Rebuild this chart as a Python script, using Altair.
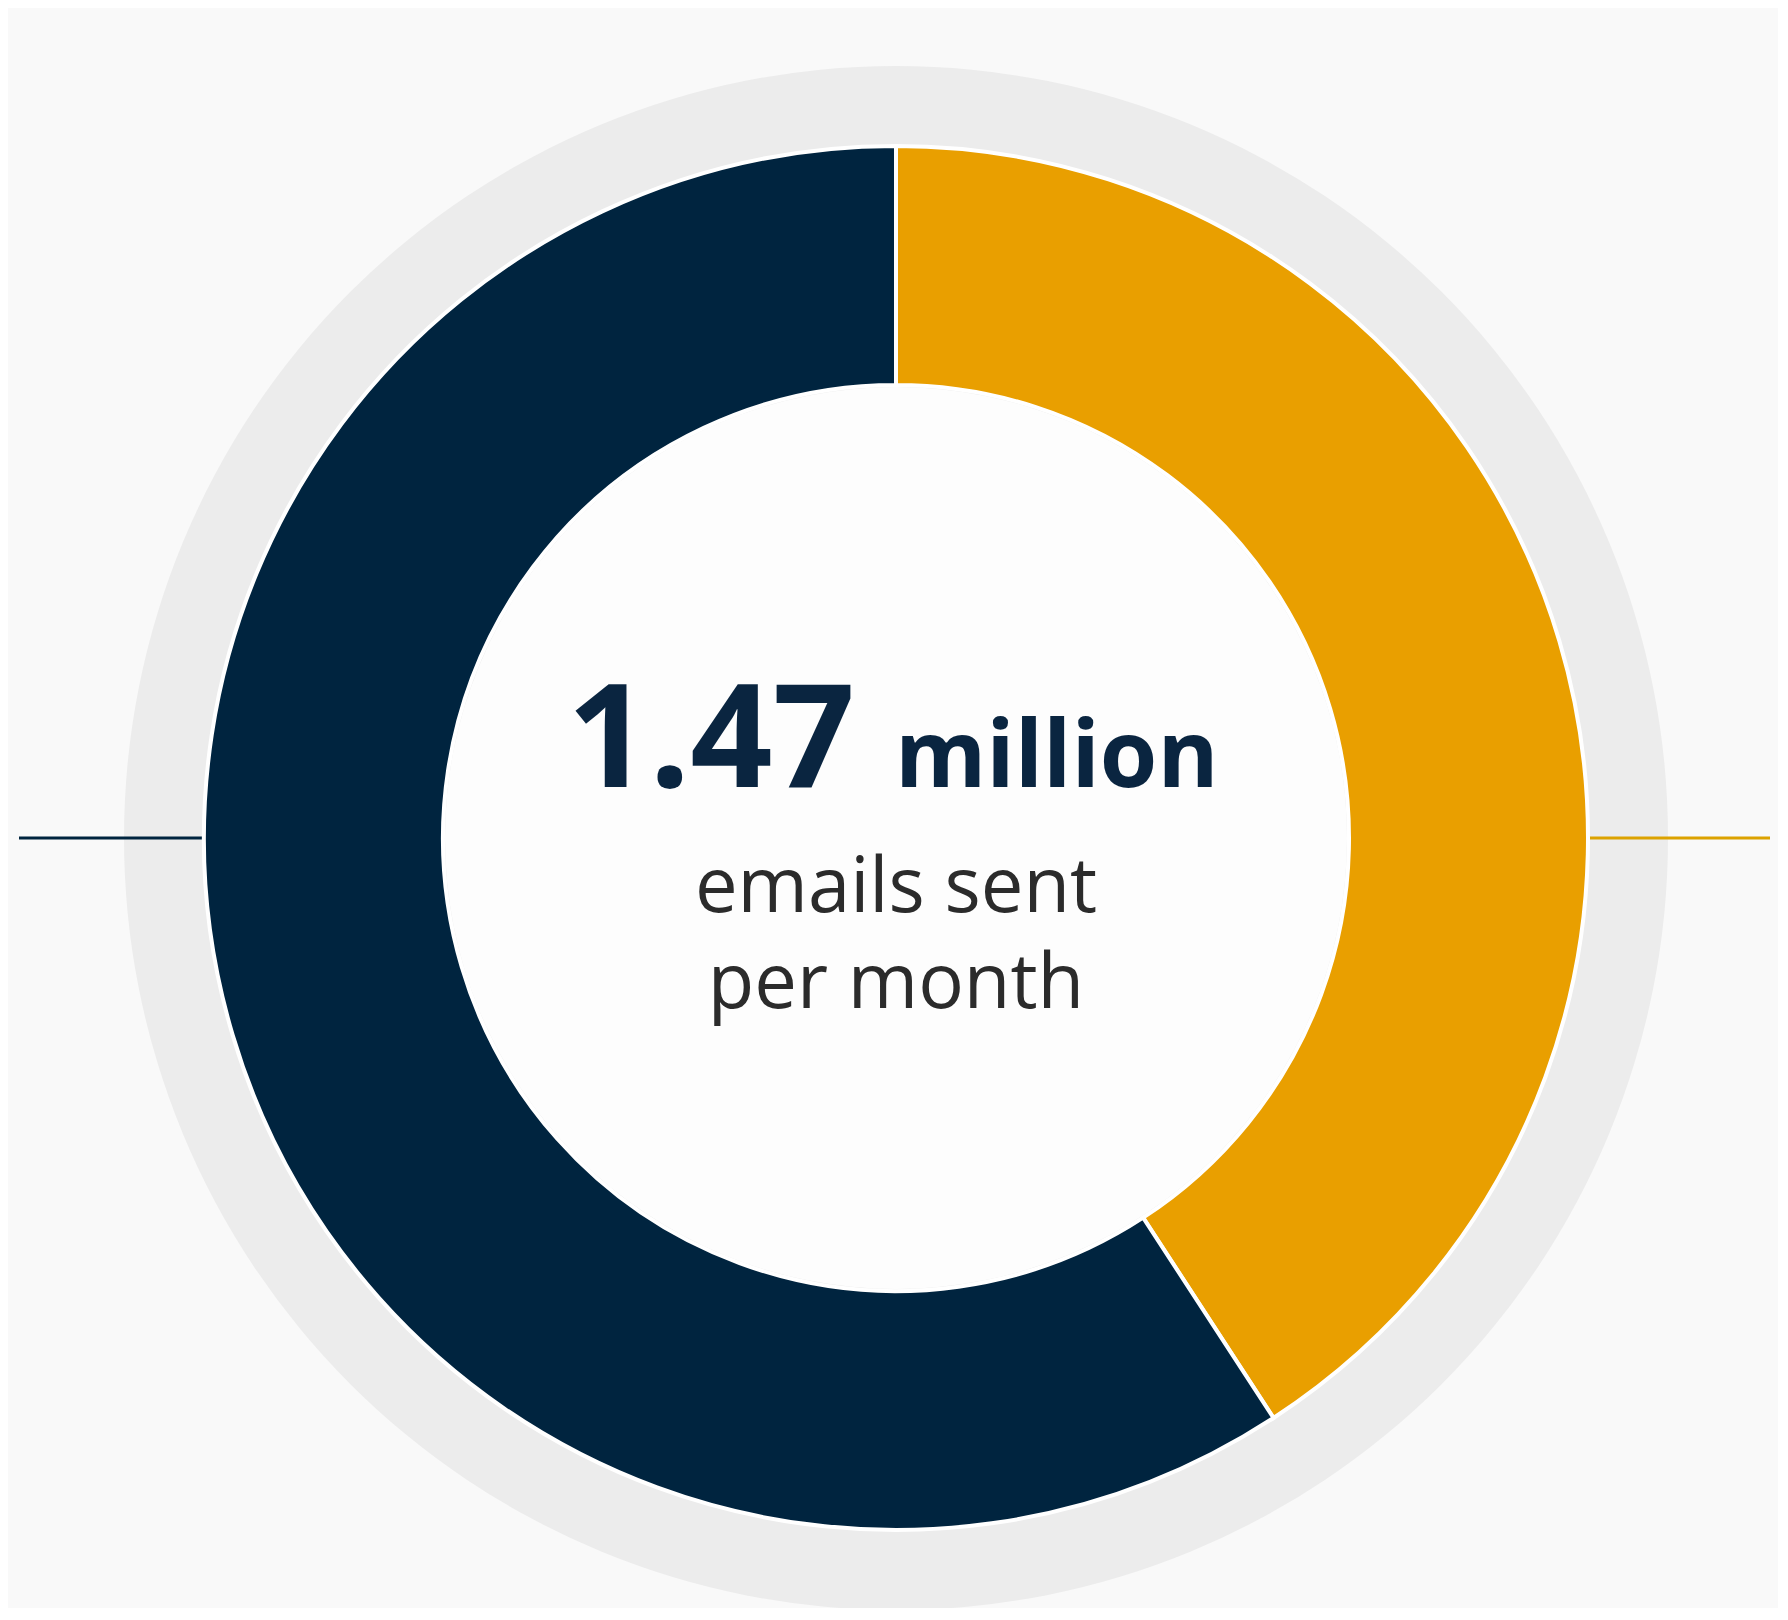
import math
import altair as alt
import pandas as pd

# ---- data ----
segments = ["Segment A", "Segment B"]
values_million = [0.60, 0.87]          # orange share, navy share (sum = 1.47 million)
seg_colors = ["#E99F00", "#00243F"]
headline_value = "1.47"
headline_unit = "million"
sub_lines = ["emails sent", "per month"]

# ---- layout (page px minus 8 px body margin) ----
W, H = 1770, 1600
CX, CY = 888, 830
R_OUT, R_IN, R_HALO = 692, 453, 772

one = pd.DataFrame({"v": [1]})

halo = alt.Chart(one).mark_arc(
    radius=R_HALO, theta=0, theta2=2 * math.pi, color="#ECECEC"
).encode(x=alt.value(CX), y=alt.value(CY))

df = pd.DataFrame({"segment": segments, "value": values_million, "order": [0, 1]})
donut = alt.Chart(df).mark_arc(
    radius=R_OUT, innerRadius=R_IN, stroke="#FFFFFF", strokeWidth=4
).encode(
    theta=alt.Theta("value:Q", stack=True),
    color=alt.Color("segment:N", scale=alt.Scale(domain=segments, range=seg_colors), legend=None),
    order=alt.Order("order:Q"),
    x=alt.value(CX),
    y=alt.value(CY),
)

inner = alt.Chart(one).mark_arc(
    radius=R_IN - 2, theta=0, theta2=2 * math.pi, color="#FDFDFD"
).encode(x=alt.value(CX), y=alt.value(CY))

left_rule = alt.Chart(one).mark_rule(color="#00243F", strokeWidth=3).encode(
    x=alt.value(11), x2=alt.value(CX - R_OUT), y=alt.value(CY)
)
right_rule = alt.Chart(one).mark_rule(color="#DCA200", strokeWidth=3).encode(
    x=alt.value(CX + R_OUT), x2=alt.value(1762), y=alt.value(CY)
)

t_value = alt.Chart(pd.DataFrame({"t": [headline_value]})).mark_text(
    font="Open Sans", fontWeight="bold", fontSize=144, color="#0A2540",
    align="right", baseline="alphabetic"
).encode(text="t:N", x=alt.value(847), y=alt.value(779))

t_unit = alt.Chart(pd.DataFrame({"t": [headline_unit]})).mark_text(
    font="Open Sans", fontWeight="bold", fontSize=93, color="#0A2540",
    align="left", baseline="alphabetic"
).encode(text="t:N", x=alt.value(887), y=alt.value(779))

t_sub1 = alt.Chart(pd.DataFrame({"t": [sub_lines[0]]})).mark_text(
    font="Open Sans", fontSize=76, color="#2B2B2B", align="center", baseline="alphabetic"
).encode(text="t:N", x=alt.value(CX), y=alt.value(904))

t_sub2 = alt.Chart(pd.DataFrame({"t": [sub_lines[1]]})).mark_text(
    font="Open Sans", fontSize=76, color="#2B2B2B", align="center", baseline="alphabetic"
).encode(text="t:N", x=alt.value(CX), y=alt.value(1000))

chart = alt.layer(
    halo, left_rule, right_rule, donut, inner, t_value, t_unit, t_sub1, t_sub2
).properties(
    width=W, height=H, background="#F9F9F9", padding=0,
    autosize=alt.AutoSizeParams(type="none"),
).configure_view(stroke=None)

chart.save("out.html", embed_options={"renderer": "svg", "actions": False})
